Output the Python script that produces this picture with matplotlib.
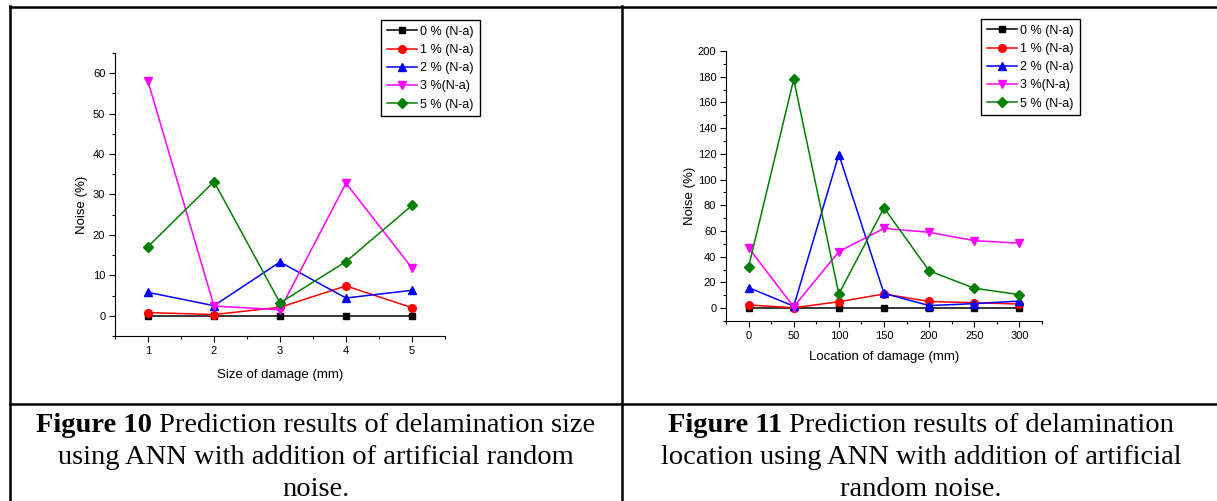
import matplotlib
matplotlib.use('Agg')
import matplotlib.pyplot as plt
from matplotlib.lines import Line2D
from matplotlib.ticker import MultipleLocator

W, H = 1217, 501

# figure 10 data
size_x = [1, 2, 3, 4, 5]
size_n0 = [0, 0, 0, 0, 0]
size_n1 = [0.8, 0.3, 2.1, 7.4, 2.0]
size_n2 = [5.8, 2.5, 13.3, 4.4, 6.3]
size_n3 = [58.0, 2.4, 1.5, 32.8, 11.8]
size_n5 = [17.1, 33.2, 3.2, 13.4, 27.3]

# figure 11 data
loc_x = [0, 50, 100, 150, 200, 250, 300]
loc_n0 = [0, 0, 0, 0, 0, 0, 0]
loc_n1 = [2.5, 0.3, 5.0, 11.0, 5.2, 4.2, 3.2]
loc_n2 = [16.0, 1.5, 119.5, 11.5, 2.0, 3.5, 5.5]
loc_n3 = [47.0, 1.0, 44.0, 62.0, 59.0, 52.5, 50.5]
loc_n5 = [32.0, 178.0, 11.0, 78.0, 29.0, 15.5, 10.5]

labels = ['0 % (N-a)', '1 % (N-a)', '2 % (N-a)', '3 %(N-a)', '5 % (N-a)']
colors = ['black', 'red', 'blue', 'magenta', 'green']
markers = ['s', 'o', '^', 'v', 'D']
msizes = [4.5, 5.5, 6, 6, 5]

plt.rcParams['font.family'] = ['Liberation Sans', 'DejaVu Sans']

fig = plt.figure(figsize=(W / 100, H / 100), dpi=100)


def px_box(l, r, t, b):
    return [l / W, 1 - b / H, (r - l) / W, (b - t) / H]


def draw_chart(rect, x, series, xlim, ylim, xmaj, xmin, ymaj, ymin, xlabel,
               ylab_pos, xlab_pos, leg_pos):
    ax = fig.add_axes(rect)
    lines = []
    for ys, c, m, ms, lab in zip(series, colors, markers, msizes, labels):
        ln, = ax.plot(x, ys, color=c, marker=m, markersize=ms, lw=1.1,
                      label=lab, clip_on=False)
        lines.append(ln)
    ax.set_xlim(*xlim)
    ax.set_ylim(*ylim)
    ax.spines['top'].set_visible(False)
    ax.spines['right'].set_visible(False)
    for s in ['left', 'bottom']:
        ax.spines[s].set_linewidth(0.8)
    ax.xaxis.set_major_locator(MultipleLocator(xmaj))
    ax.xaxis.set_minor_locator(MultipleLocator(xmin))
    ax.yaxis.set_major_locator(MultipleLocator(ymaj))
    ax.yaxis.set_minor_locator(MultipleLocator(ymin))
    ax.tick_params(which='major', direction='out', length=4, width=0.8,
                   labelsize=8, pad=3)
    ax.tick_params(which='minor', direction='out', length=2.2, width=0.8)
    ax.set_xlabel(xlabel, fontsize=9.5)
    ax.set_ylabel('Noise (%)', fontsize=9.5)
    ax.yaxis.set_label_coords(*ylab_pos)
    ax.xaxis.set_label_coords(*xlab_pos)
    fig.legend(handles=lines, loc='upper left',
               bbox_to_anchor=(leg_pos[0] / W, 1 - leg_pos[1] / H),
               fontsize=9, frameon=True, fancybox=False, edgecolor='black',
               framealpha=1, borderaxespad=0, borderpad=0.45,
               labelspacing=0.5, handlelength=2.4, handletextpad=0.3)
    return ax


draw_chart(px_box(115, 445, 53, 336), size_x,
           [size_n0, size_n1, size_n2, size_n3, size_n5],
           (0.5, 5.5), (-5, 65), 1, 0.5, 10, 5, 'Size of damage (mm)',
           (-0.082, 0.463), (0.5, -0.117), (381, 20))

draw_chart(px_box(726, 1042, 51, 321), loc_x,
           [loc_n0, loc_n1, loc_n2, loc_n3, loc_n5],
           (-25, 325), (-10, 200), 50, 25, 20, 10, 'Location of damage (mm)',
           (-0.095, 0.463), (0.5, -0.111), (981, 19))

# table borders
def hline(y, x0, x1):
    fig.add_artist(Line2D([x0 / W, x1 / W], [1 - y / H, 1 - y / H],
                          transform=fig.transFigure, color='black', lw=1.8))


def vline(x, y0, y1):
    fig.add_artist(Line2D([x / W, x / W], [1 - y0 / H, 1 - y1 / H],
                          transform=fig.transFigure, color='black', lw=1.8))


hline(7, 10, W)
hline(404, 10, W)
vline(10, 6, H)
vline(621.5, 6, H)

# captions
renderer = fig.canvas.get_renderer()
serif = 'Liberation Serif'
cap_size = 20.5


def caption(cx, base, bold, rest):
    y = 1 - base / H
    if bold:
        t1 = fig.text(0, y, bold, family=serif, weight='bold',
                      fontsize=cap_size, va='baseline')
        t2 = fig.text(0, y, rest, family=serif, fontsize=cap_size,
                      va='baseline')
        w1 = t1.get_window_extent(renderer).width
        w2 = t2.get_window_extent(renderer).width
        gap = cap_size * 100 / 72 * 0.25
        x0 = cx - (w1 + gap + w2) / 2
        t1.set_x(x0 / W)
        t2.set_x((x0 + w1 + gap) / W)
    else:
        fig.text(cx / W, y, rest, family=serif, fontsize=cap_size,
                 va='baseline', ha='center')


caption(316, 432, 'Figure 10', 'Prediction results of delamination size')
caption(316, 464, None, 'using ANN with addition of artificial random')
caption(316, 496, None, 'noise.')
caption(921, 432, 'Figure 11', 'Prediction results of delamination')
caption(921, 464, None, 'location using ANN with addition of artificial')
caption(921, 496, None, 'random noise.')

fig.savefig('out.png', dpi=100)
